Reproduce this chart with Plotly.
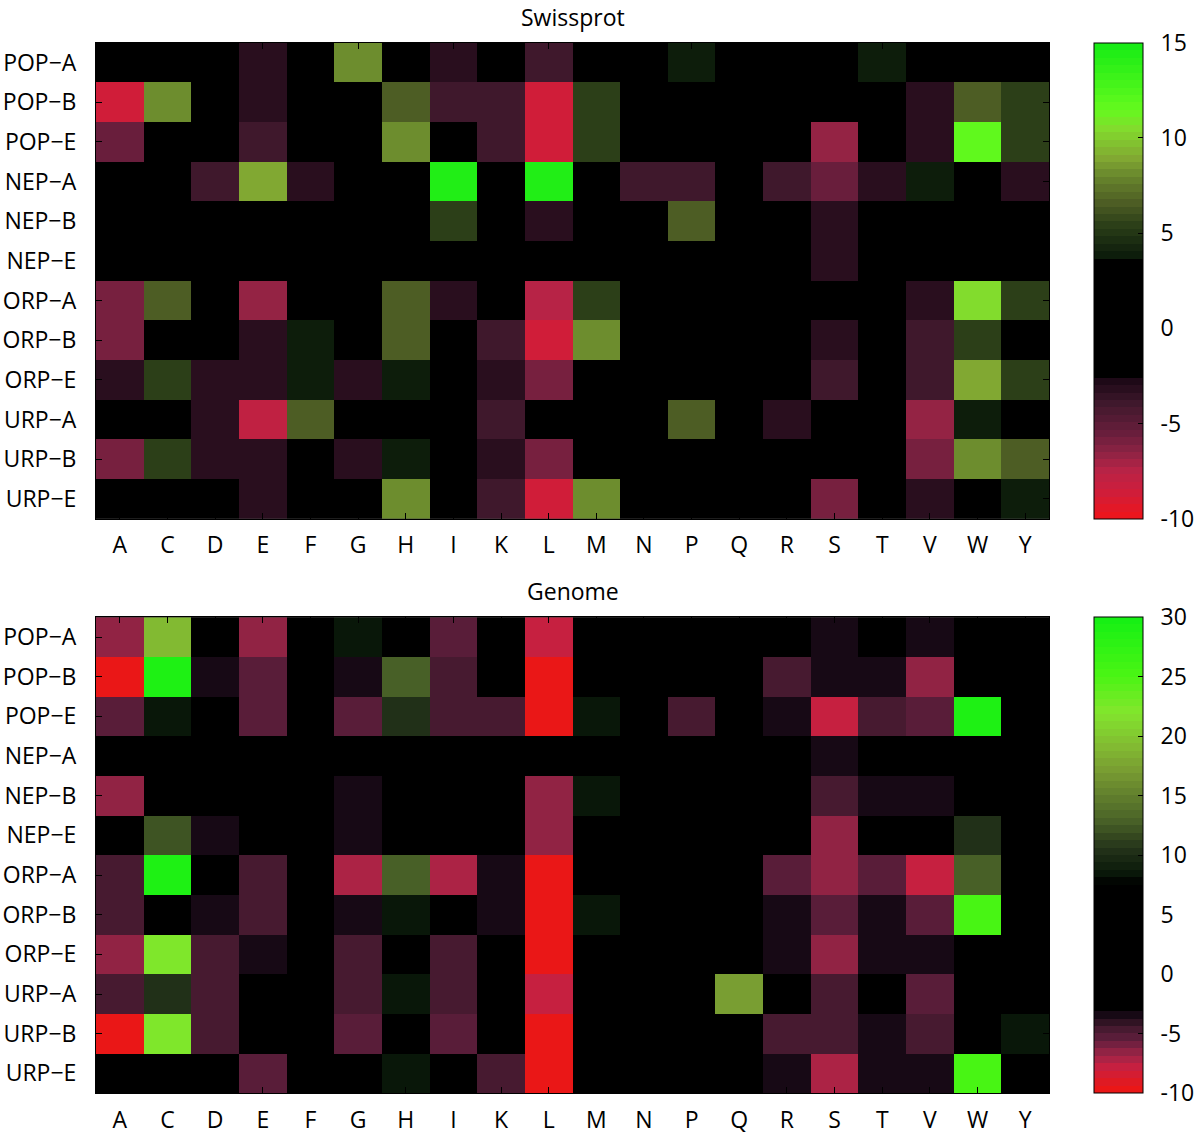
import plotly.graph_objects as go
import numpy as np

amino = ["A", "C", "D", "E", "F", "G", "H", "I", "K", "L", "M", "N", "P", "Q", "R", "S", "T", "V", "W", "Y"]
groups = ["POP−A", "POP−B", "POP−E", "NEP−A", "NEP−B", "NEP−E",
          "ORP−A", "ORP−B", "ORP−E", "URP−A", "URP−B", "URP−E"]

#            A     C    D     E     F    G    H    I     K     L     M    N    P    Q    R     S     T    V     W     Y
swiss_pop_a = [0, 0, 0, -3, 0, 8, 0, -3, 0, -4, 0, 0, 4, 0, 0, 0, 4, 0, 0, 0]
swiss_pop_b = [-8.5, 8, 0, -3, 0, 0, 6.5, -4, -4, -8.5, 5.5, 0, 0, 0, 0, 0, 0, -3, 6.5, 5.5]
swiss_pop_e = [-5.5, 0, 0, -4, 0, 0, 8, 0, -4, -8.5, 5.5, 0, 0, 0, 0, -6.5, 0, -3, 11.5, 5.5]
swiss_nep_a = [0, 0, -4, 9, -3, 0, 0, 14.5, 0, 14.5, 0, -4, -4, 0, -4, -5.5, -3, 4, 0, -3]
swiss_nep_b = [0, 0, 0, 0, 0, 0, 0, 5.5, 0, -3, 0, 0, 6.5, 0, 0, -3, 0, 0, 0, 0]
swiss_nep_e = [0, 0, 0, 0, 0, 0, 0, 0, 0, 0, 0, 0, 0, 0, 0, -3, 0, 0, 0, 0]
swiss_orp_a = [-5.8, 6.5, 0, -6.6, 0, 0, 6.5, -3, 0, -7.5, 5.5, 0, 0, 0, 0, 0, 0, -3, 10.5, 5.5]
swiss_orp_b = [-5.8, 0, 0, -3, 4, 0, 6.5, 0, -4, -8.5, 8, 0, 0, 0, 0, -3, 0, -4, 5.5, 0]
swiss_orp_e = [-3, 5.5, -3, -3, 4, -3, 4, 0, -3, -5.8, 0, 0, 0, 0, 0, -4, 0, -4, 9, 5.5]
swiss_urp_a = [0, 0, -3, -7.8, 6.5, 0, 0, 0, -4, 0, 0, 0, 6.5, 0, -3, 0, 0, -6.6, 4, 0]
swiss_urp_b = [-5.8, 5.5, -3, -3, 0, -3, 4, 0, -3, -5.8, 0, 0, 0, 0, 0, 0, 0, -5.8, 8, 6.5]
swiss_urp_e = [0, 0, 0, -3, 0, 0, 8, 0, -4, -8.5, 8, 0, 0, 0, 0, -5.8, 0, -3, 0, 4]

gen_pop_a = [-6.5, 19, 0, -6.5, 0, 8.5, 0, -5.5, 0, -8, 0, 0, 0, 0, 0, -3.2, 0, -3.2, 0, 0]
gen_pop_b = [-10, 29, -3.2, -5.5, 0, -3.2, 13, -4.5, 0, -10, 0, 0, 0, 0, -4.5, -3.2, -3.2, -6.5, 0, 0]
gen_pop_e = [-5.5, 8.5, 0, -5.5, 0, -5.5, 10.5, -4.5, -4.5, -9.5, 8.5, 0, -4.5, 0, -3.2, -8, -4.5, -5.5, 29, 0]
gen_nep_a = [0, 0, 0, 0, 0, 0, 0, 0, 0, 0, 0, 0, 0, 0, 0, -3.2, 0, 0, 0, 0]
gen_nep_b = [-6.5, 0, 0, 0, 0, -3.2, 0, 0, 0, -6.5, 8.5, 0, 0, 0, 0, -4.5, -3.2, -3.2, 0, 0]
gen_nep_e = [0, 12, -3.2, 0, 0, -3.2, 0, 0, 0, -6.5, 0, 0, 0, 0, 0, -6.5, 0, 0, 10.5, 0]
gen_orp_a = [-4.5, 29, 0, -4.5, 0, -7.5, 13, -7.5, -3.2, -10, 0, 0, 0, 0, -5.5, -6.5, -5.5, -8, 13, 0]
gen_orp_b = [-4.5, 0, -3.2, -4.5, 0, -3.2, 8.5, 0, -3.2, -10, 8.5, 0, 0, 0, -3.2, -5.5, -3.2, -5.5, 25, 0]
gen_orp_e = [-6.5, 22, -4.5, -3.2, 0, -4.5, 0, -4.5, 0, -9.5, 0, 0, 0, 0, -3.2, -6.5, -3.2, -3.2, 0, 0]
gen_urp_a = [-4.5, 10.5, -4.5, 0, 0, -4.5, 8.5, -4.5, 0, -8, 0, 0, 0, 17, 0, -4.5, 0, -5.5, 0, 0]
gen_urp_b = [-10, 22, -4.5, 0, 0, -5.5, 0, -5.5, 0, -10, 0, 0, 0, 0, -4.5, -4.5, -3.2, -4.5, 0, 8.5]
gen_urp_e = [0, 0, 0, -5.5, 0, 0, 8.5, 0, -4.5, -9.5, 0, 0, 0, 0, -3.2, -7.5, -3.2, -3.2, 25, 0]

swiss_ticks = [-10, -5, 0, 5, 10, 15]
swiss_ticktext = ["-10", "-5", "0", "5", "10", "15"]
genome_ticks = [-10, -5, 0, 5, 10, 15, 20, 25, 30]
genome_ticktext = ["-10", "-5", "0", "5", "10", "15", "20", "25", "30"]

swiss_z = [swiss_pop_a, swiss_pop_b, swiss_pop_e, swiss_nep_a, swiss_nep_b, swiss_nep_e,
           swiss_orp_a, swiss_orp_b, swiss_orp_e, swiss_urp_a, swiss_urp_b, swiss_urp_e]
gen_z = [gen_pop_a, gen_pop_b, gen_pop_e, gen_nep_a, gen_nep_b, gen_nep_e,
         gen_orp_a, gen_orp_b, gen_orp_e, gen_urp_a, gen_urp_b, gen_urp_e]

swiss_anchors = [(-10, (240, 20, 25)), (-8.5, (205, 30, 60)), (-7.5, (185, 35, 70)),
                 (-6.5, (140, 35, 68)), (-5.5, (105, 30, 60)), (-4, (65, 25, 45)),
                 (-2.7, (28, 8, 22)), (-2.6, (0, 0, 0)), (3.6, (0, 0, 0)), (3.7, (10, 25, 10)),
                 (5.5, (45, 65, 25)), (6.5, (75, 90, 35)), (8, (105, 135, 45)),
                 (9, (130, 170, 50)), (10.5, (130, 220, 45)), (11.5, (100, 250, 30)),
                 (15, (20, 235, 20))]
gen_anchors = [(-10, (240, 20, 20)), (-9.5, (230, 25, 25)), (-8, (205, 30, 60)),
               (-7.5, (185, 35, 70)), (-6.5, (142, 35, 68)), (-5.5, (95, 30, 60)),
               (-4.5, (65, 25, 45)), (-3.2, (14, 6, 16)), (-3.0, (0, 0, 0)), (7.6, (0, 0, 0)),
               (8.5, (10, 25, 10)), (10.5, (35, 50, 25)), (13, (75, 100, 40)),
               (17, (120, 155, 50)), (19, (130, 185, 50)), (22, (130, 230, 45)),
               (25, (75, 245, 20)), (30, (20, 240, 20))]


def make_scale(anchors, zmin, zmax, n=64):
    vals = [a[0] for a in anchors]
    cols = np.array([a[1] for a in anchors], dtype=float)
    scale = []
    for i in range(n):
        v = zmin + (i + 0.5) * (zmax - zmin) / n
        c = [int(round(np.interp(v, vals, cols[:, k]))) for k in range(3)]
        s = f"rgb({c[0]},{c[1]},{c[2]})"
        scale.append([i / n, s])
        scale.append([(i + 1) / n, s])
    return scale


W, H = 1200, 1135
L, R = 96, 1052
font = "Open Sans"
fs = 23

fig = go.Figure()

panels = [
    (swiss_z, -10, 15, swiss_anchors, swiss_ticks, swiss_ticktext, "x", "y", 43, 521, "Swissprot"),
    (gen_z, -10, 30, gen_anchors, genome_ticks, genome_ticktext, "x2", "y2", 620, 1098, "Genome"),
]

for z, zmin, zmax, anchors, ticks, ttext, xa, ya, top, bot, title in panels:
    cy = 1 - (top + bot) / 2 / H
    fig.add_trace(go.Heatmap(
        z=z, x=amino, y=groups, xaxis=xa, yaxis=ya,
        zmin=zmin, zmax=zmax, colorscale=make_scale(anchors, zmin, zmax),
        colorbar=dict(
            x=(1097 - L) / (R - L), xanchor="left", xref="paper",
            y=cy, yanchor="middle", len=(bot - top) / H, lenmode="fraction",
            thickness=49, thicknessmode="pixels",
            outlinecolor="black", outlinewidth=1,
            tickvals=ticks, ticktext=["\u00a0\u00a0" + t for t in ttext],
            ticks="inside", ticklen=5, tickcolor="black",
            tickfont=dict(family=font, size=fs, color="black"),
            xpad=0, ypad=0,
        ),
    ))
    fig.add_annotation(text=title, x=0.5, xref="paper", y=1 - (top - 26) / H, yref="paper",
                       showarrow=False, font=dict(family=font, size=23, color="black"),
                       yanchor="middle", borderpad=0)

axis_common = dict(showline=True, linecolor="black", linewidth=1, mirror="ticks",
                   ticks="inside", ticklen=6, tickcolor="black", showgrid=False,
                   zeroline=False, tickfont=dict(family=font, size=fs, color="black"))

fig.update_layout(
    width=W, height=H,
    margin=dict(l=L, r=W - R, t=0, b=0),
    paper_bgcolor="white", plot_bgcolor="black",
    showlegend=False,
    xaxis=dict(domain=[0, 1], anchor="y", ticklabelstandoff=6, **axis_common),
    yaxis=dict(domain=[1 - 521 / H, 1 - 43 / H], anchor="x", autorange="reversed",
               ticklabelstandoff=14, **axis_common),
    xaxis2=dict(domain=[0, 1], anchor="y2", ticklabelstandoff=6, **axis_common),
    yaxis2=dict(domain=[1 - 1098 / H, 1 - 620 / H], anchor="x2", autorange="reversed",
                ticklabelstandoff=14, **axis_common),
)

fig.write_html("out.html", config={"displayModeBar": False},
               post_script="document.body.style.margin='0';document.body.style.padding='0';")
